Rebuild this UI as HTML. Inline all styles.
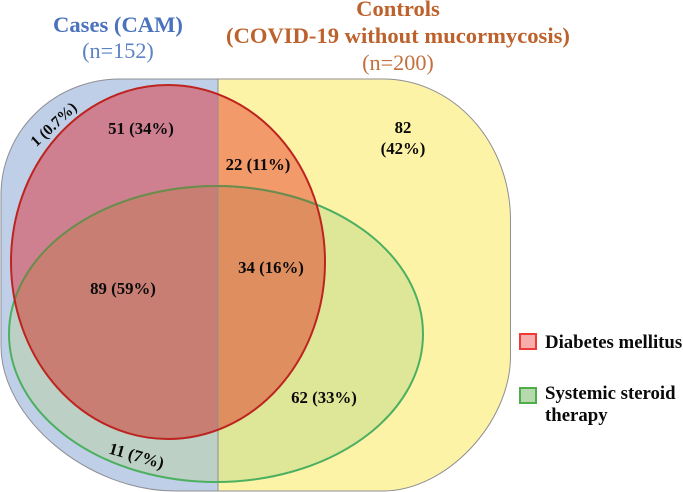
<!DOCTYPE html>
<html>
<head>
<meta charset="utf-8">
<style>
html,body{margin:0;padding:0;background:#fff}
svg{display:block}
text{font-family:"Liberation Serif",serif}
.n{font-weight:bold;font-size:16.8px;fill:#0a0a0a;text-anchor:middle}
.l{font-weight:bold;font-size:18.800px;fill:#0a0a0a}
</style>
</head>
<body>
<svg width="683" height="492" viewBox="0 0 683 492" xmlns="http://www.w3.org/2000/svg">
<defs>
<clipPath id="left"><rect x="0" y="0" width="218" height="492"/></clipPath>
<clipPath id="right"><rect x="218" y="0" width="465" height="492"/></clipPath>
<clipPath id="red"><ellipse cx="168" cy="262" rx="157" ry="177"/></clipPath>
</defs>
<rect width="683" height="492" fill="#fff"/>

<path clip-path="url(#left)" d="M120 79H383A127.500 141 0 0 1 510.500 220V356C510.500 423 446 491 383 491H175C88 491 1 418.500 1 346V195A119 116 0 0 1 120 79Z" fill="#c0cfe8" stroke="#8f8f95" stroke-width="1"/>
<path clip-path="url(#right)" d="M120 79H383A127.500 141 0 0 1 510.500 220V356C510.500 423 446 491 383 491H175C88 491 1 418.500 1 346V195A119 116 0 0 1 120 79Z" fill="#fdf3a7" stroke="#8f8f95" stroke-width="1"/>

<ellipse cx="216" cy="334" rx="207" ry="148" fill="#bcd0c5" clip-path="url(#left)"/>
<ellipse cx="216" cy="334" rx="207" ry="148" fill="#dee698" clip-path="url(#right)"/>
<ellipse cx="168" cy="262" rx="157" ry="177" fill="#cf8090" clip-path="url(#left)"/>
<ellipse cx="168" cy="262" rx="157" ry="177" fill="#f39a6a" clip-path="url(#right)"/>
<g clip-path="url(#red)">
<ellipse cx="216" cy="334" rx="207" ry="148" fill="#c97e74" clip-path="url(#left)"/>
<ellipse cx="216" cy="334" rx="207" ry="148" fill="#df8e60" clip-path="url(#right)"/>
</g>
<line x1="218" y1="79" x2="218" y2="491" stroke="#8f8f95" stroke-width="1"/>
<ellipse cx="216" cy="334" rx="207" ry="148" fill="none" stroke="#4cb060" stroke-width="2"/>
<g clip-path="url(#red)">
<ellipse cx="216" cy="334" rx="207" ry="148" fill="none" stroke="#6f8a4c" stroke-width="2"/>
</g>
<ellipse cx="168" cy="262" rx="157" ry="177" fill="none" stroke="#bd2420" stroke-width="2"/>

<text x="118" y="32" text-anchor="middle" font-size="22.600" font-weight="bold" fill="#4a72bd">Cases (CAM)</text>
<text x="118" y="58" text-anchor="middle" font-size="22.200" fill="#5c82c6">(n=152)</text>
<text x="398" y="16" text-anchor="middle" font-size="22.600" font-weight="bold" fill="#bd622c">Controls</text>
<text x="398" y="43" text-anchor="middle" font-size="22.600" font-weight="bold" fill="#bd622c">(COVID-19 without mucormycosis)</text>
<text x="398" y="70" text-anchor="middle" font-size="22.200" fill="#c4703e">(n=200)</text>

<text class="n" x="141" y="134">51 (34%)</text>
<text class="n" x="258" y="170">22 (11%)</text>
<text class="n" x="403" y="133">82</text>
<text class="n" x="403" y="154">(42%)</text>
<text class="n" x="123" y="294">89 (59%)</text>
<text class="n" x="271" y="273">34 (16%)</text>
<text class="n" x="324" y="403">62 (33%)</text>
<text class="n" transform="translate(135 461) rotate(16)" x="0" y="0">11 (7%)</text>
<text class="n" style="font-size:15.500px" transform="translate(57 128) rotate(-43)" x="0" y="0">1 (0.7%)</text>

<rect x="520" y="334" width="16" height="15" fill="#f5aeac" stroke="#ee3b35" stroke-width="2"/>
<text class="l" x="545" y="348">Diabetes mellitus</text>
<rect x="520" y="388" width="16" height="15" fill="#b7d9ae" stroke="#4fae4a" stroke-width="2"/>
<text class="l" x="545" y="399">Systemic steroid</text>
<text class="l" x="545" y="421">therapy</text>
</svg>
</body>
</html>
